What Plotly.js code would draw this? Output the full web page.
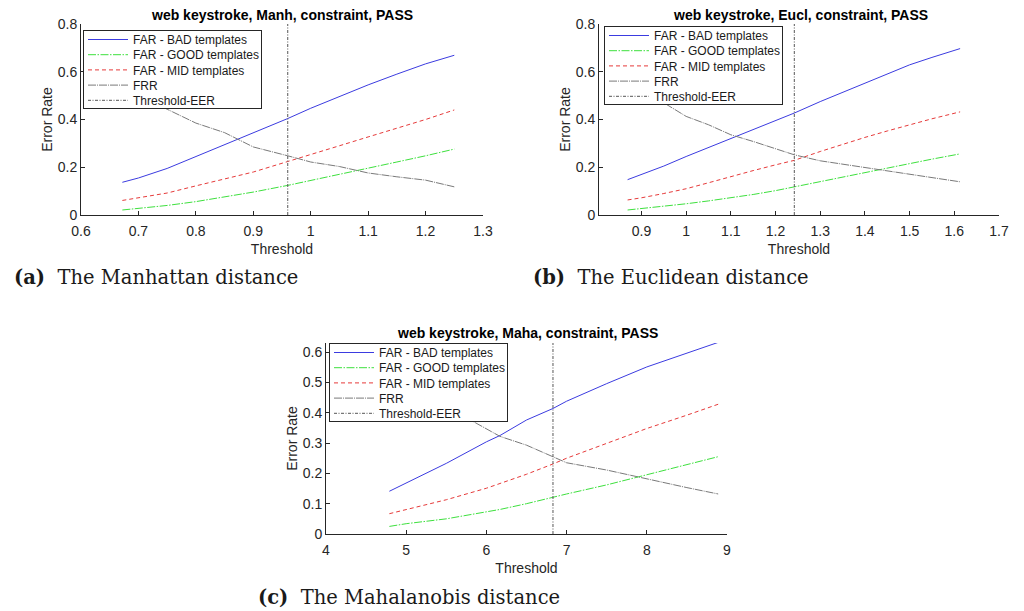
<!DOCTYPE html>
<html>
<head>
<meta charset="utf-8">
<script src="https://cdn.plot.ly/plotly-3.0.1.min.js"></script>
<style>html,body{margin:0;padding:0;background:#fff;}#chart{width:1024px;height:611px;}</style>
</head>
<body>
<div id="chart"></div>
<script>
// ---- Data ----
const seriesNames = ["FAR - BAD templates", "FAR - GOOD templates", "FAR - MID templates", "FRR", "Threshold-EER"];
const panelTitles = ["web keystroke, Manh, constraint, PASS", "web keystroke, Eucl, constraint, PASS", "web keystroke, Maha, constraint, PASS"];
const captions = ["<b>(a)</b>  The Manhattan distance", "<b>(b)</b>  The Euclidean distance", "<b>(c)</b>  The Mahalanobis distance"];

// (a) Manhattan
const thrA  = [0.672, 0.7, 0.75, 0.8, 0.85, 0.9, 0.96, 1.0, 1.05, 1.1, 1.15, 1.2, 1.25];
const badA  = [0.137, 0.155, 0.195, 0.245, 0.293, 0.343, 0.404, 0.447, 0.497, 0.545, 0.590, 0.633, 0.669];
const goodA = [0.021, 0.028, 0.040, 0.056, 0.075, 0.096, 0.124, 0.144, 0.170, 0.197, 0.222, 0.248, 0.276];
const midA  = [0.061, 0.072, 0.092, 0.122, 0.150, 0.180, 0.224, 0.252, 0.290, 0.327, 0.363, 0.400, 0.440];
const frrA  = [0.530, 0.500, 0.443, 0.385, 0.345, 0.285, 0.248, 0.222, 0.203, 0.176, 0.160, 0.146, 0.118];
const eerA  = 0.96;

// (b) Euclidean
const thrB  = [0.869, 0.9, 0.95, 1.0, 1.05, 1.1, 1.15, 1.2, 1.242, 1.3, 1.35, 1.4, 1.45, 1.5, 1.55, 1.613];
const badB  = [0.148, 0.170, 0.205, 0.245, 0.283, 0.322, 0.360, 0.396, 0.427, 0.475, 0.513, 0.552, 0.590, 0.629, 0.660, 0.697];
const goodB = [0.021, 0.027, 0.036, 0.047, 0.059, 0.072, 0.086, 0.102, 0.118, 0.141, 0.158, 0.176, 0.195, 0.215, 0.234, 0.256];
const midB  = [0.063, 0.072, 0.090, 0.110, 0.135, 0.162, 0.186, 0.210, 0.229, 0.266, 0.296, 0.325, 0.352, 0.378, 0.403, 0.432];
const frrB  = [0.560, 0.520, 0.470, 0.413, 0.378, 0.336, 0.308, 0.277, 0.252, 0.227, 0.213, 0.197, 0.183, 0.169, 0.157, 0.139];
const eerB  = 1.242;

// (c) Mahalanobis
const thrC  = [4.79, 5.0, 5.5, 6.0, 6.17, 6.5, 6.83, 7.0, 7.5, 8.0, 8.5, 8.89];
const badC  = [0.141, 0.168, 0.233, 0.304, 0.325, 0.376, 0.414, 0.438, 0.496, 0.551, 0.595, 0.632];
const goodC = [0.025, 0.034, 0.050, 0.073, 0.081, 0.100, 0.122, 0.132, 0.162, 0.195, 0.227, 0.255];
const midC  = [0.067, 0.080, 0.113, 0.151, 0.167, 0.197, 0.231, 0.250, 0.299, 0.348, 0.392, 0.428];
const frrC  = [0.530, 0.500, 0.420, 0.347, 0.322, 0.293, 0.255, 0.235, 0.211, 0.181, 0.153, 0.132];
const eerC  = 6.83;

const xTicksA = [0.6, 0.7, 0.8, 0.9, 1.0, 1.1, 1.2, 1.3];
const xTicksB = [0.9, 1.0, 1.1, 1.2, 1.3, 1.4, 1.5, 1.6, 1.7];
const xTicksC = [4, 5, 6, 7, 8, 9];
const yTicksAB = [0, 0.2, 0.4, 0.6, 0.8];
const yTicksC = [0, 0.1, 0.2, 0.3, 0.4, 0.5, 0.6];

// ---- Styling ----
const H = 611, W = 1024;
const axisCol = "#262626";
const sans = "Liberation Sans, Arial, sans-serif";
const styles = [
  {color: "#3b3be0", dash: "solid", width: 1},
  {color: "#3ee03e", dash: "8px,1.5px,1.5px,1.5px", width: 1},
  {color: "#e63a3a", dash: "4px,3px", width: 1},
  {color: "#7a7a7a", dash: "8px,1px,1px,1px", width: 1},
  {color: "#555555", dash: "3px,1.5px,1px,1.5px", width: 1}
];

function panelTraces(xs, bad, good, mid, frr, eer, ytop, axSuffix, legendId) {
  const ys = [bad, good, mid, frr];
  const tr = ys.map((y, i) => ({
    type: "scatter", mode: "lines", x: xs, y: y, name: seriesNames[i],
    line: styles[i], xaxis: "x" + axSuffix, yaxis: "y" + axSuffix, legend: legendId, hoverinfo: "skip"
  }));
  tr.push({
    type: "scatter", mode: "lines", x: [eer, eer], y: [0, ytop], name: seriesNames[4],
    line: styles[4], xaxis: "x" + axSuffix, yaxis: "y" + axSuffix, legend: legendId, hoverinfo: "skip"
  });
  return tr;
}

const data = [].concat(
  panelTraces(thrA, badA, goodA, midA, frrA, eerA, 0.8, "", "legend"),
  panelTraces(thrB, badB, goodB, midB, frrB, eerB, 0.8, "2", "legend2"),
  panelTraces(thrC, badC, goodC, midC, frrC, eerC, 0.63, "3", "legend3")
);

function px(x) { return x / W; }
function py(y) { return 1 - y / H; }

const tickFont = {family: sans, size: 14, color: axisCol};
function xaxis(domain, range, tv, anchor) {
  return {
    domain: domain, range: range, tickvals: tv, anchor: anchor,
    showline: true, linecolor: axisCol, linewidth: 1, mirror: false,
    ticks: "inside", ticklen: 4, tickcolor: axisCol, showgrid: false, zeroline: false,
    tickfont: tickFont, fixedrange: true, ticklabelstandoff: 3,
    title: {text: "Threshold", font: {family: sans, size: 14, color: axisCol}, standoff: 6}
  };
}
function yaxis(domain, range, tv, anchor) {
  return {
    domain: domain, range: range, tickvals: tv, anchor: anchor,
    showline: true, linecolor: axisCol, linewidth: 1, mirror: false,
    ticks: "inside", ticklen: 4, tickcolor: axisCol, showgrid: false, zeroline: false,
    tickfont: tickFont, fixedrange: true,
    title: {text: "Error Rate", font: {family: sans, size: 14, color: axisCol}, standoff: 1}
  };
}
function legend(xp, yp) {
  return {
    x: px(xp), y: py(yp), xanchor: "left", yanchor: "top",
    bgcolor: "#ffffff", bordercolor: axisCol, borderwidth: 1,
    font: {family: sans, size: 12, color: "#1a1a1a"},
    tracegroupgap: 0, itemwidth: 30
  };
}

const titleFont = {family: sans, size: 14, color: "#000"};
const capFont = {family: "DejaVu Serif, Liberation Serif, serif", size: 19.5, color: "#1a1a1a"};

const layout = {
  width: W, height: H, margin: {l: 0, r: 0, t: 0, b: 0},
  paper_bgcolor: "#fff", plot_bgcolor: "#fff", showlegend: true,
  xaxis: xaxis([px(81), px(483)], [0.6, 1.3], xTicksA, "y"),
  yaxis: yaxis([py(215), py(24)], [0, 0.8], yTicksAB, "x"),
  xaxis2: xaxis([px(599), px(999)], [0.805, 1.7], xTicksB, "y2"),
  yaxis2: yaxis([py(215), py(24)], [0, 0.8], yTicksAB, "x2"),
  xaxis3: xaxis([px(326), px(727)], [4, 9], xTicksC, "y3"),
  yaxis3: yaxis([py(534), py(343)], [0, 0.63], yTicksC, "x3"),
  legend: legend(83, 30),
  legend2: legend(604, 26),
  legend3: legend(329, 343),
  annotations: [
    {text: "<b>" + panelTitles[0] + "</b>", x: px(282), y: py(15), xref: "paper", yref: "paper", showarrow: false, font: titleFont, xanchor: "center", yanchor: "middle"},
    {text: "<b>" + panelTitles[1] + "</b>", x: px(800), y: py(15), xref: "paper", yref: "paper", showarrow: false, font: titleFont, xanchor: "center", yanchor: "middle"},
    {text: "<b>" + panelTitles[2] + "</b>", x: px(527), y: py(333), xref: "paper", yref: "paper", showarrow: false, font: titleFont, xanchor: "center", yanchor: "middle"},
    {text: captions[0], x: px(12), y: py(277), xref: "paper", yref: "paper", showarrow: false, font: capFont, xanchor: "left", yanchor: "middle"},
    {text: captions[1], x: px(531), y: py(277), xref: "paper", yref: "paper", showarrow: false, font: capFont, xanchor: "left", yanchor: "middle"},
    {text: captions[2], x: px(256), y: py(597), xref: "paper", yref: "paper", showarrow: false, font: capFont, xanchor: "left", yanchor: "middle"}
  ]
};

// Tighten the legends to MATLAB-like row spacing (compact rows, longer line samples)
function compactLegends() {
  const rowTop = 9, rowStep = 15.2, rowBottom = 8.5, textShift = 9, extraW = 5;
  const groups = Array.from(document.querySelectorAll("g.infolayer > g")).filter(g =>
    Array.from(g.classList).some(c => /^legend\d*$/.test(c)));
  groups.forEach(lg => {
    if (lg.getAttribute("data-compacted")) return;
    lg.setAttribute("data-compacted", "1");
    const bg = lg.querySelector("rect.bg");
    if (!bg) return;
    const bgTop = bg.getCTM().f + parseFloat(bg.getAttribute("y") || 0);
    const traces = Array.from(lg.querySelectorAll("g.traces"));
    traces.forEach((t, i) => {
      const cur = t.getCTM().f;
      const want = bgTop + rowTop + i * rowStep;
      const tf = t.getAttribute("transform") || "translate(0,0)";
      const m = /translate\(\s*([-\d.e]+)[\s,]+([-\d.e]+)\s*\)/.exec(tf);
      const tx = m ? parseFloat(m[1]) : 0, ty = m ? parseFloat(m[2]) : 0;
      t.setAttribute("transform", "translate(" + tx + "," + (ty + want - cur) + ")");
      t.querySelectorAll("path.js-line").forEach(p => p.setAttribute("d", "M4,0h40"));
      t.querySelectorAll("text").forEach(te => te.setAttribute("transform", "translate(" + textShift + ",0)"));
    });
    lg.querySelectorAll("[clip-path]").forEach(el => el.removeAttribute("clip-path"));
    const h = rowTop + (traces.length - 1) * rowStep + rowBottom;
    bg.setAttribute("height", h);
    bg.setAttribute("width", parseFloat(bg.getAttribute("width")) + extraW);
  });
}

Plotly.newPlot("chart", data, layout, {staticPlot: true, displayModeBar: false}).then(compactLegends);
</script>
</body>
</html>
